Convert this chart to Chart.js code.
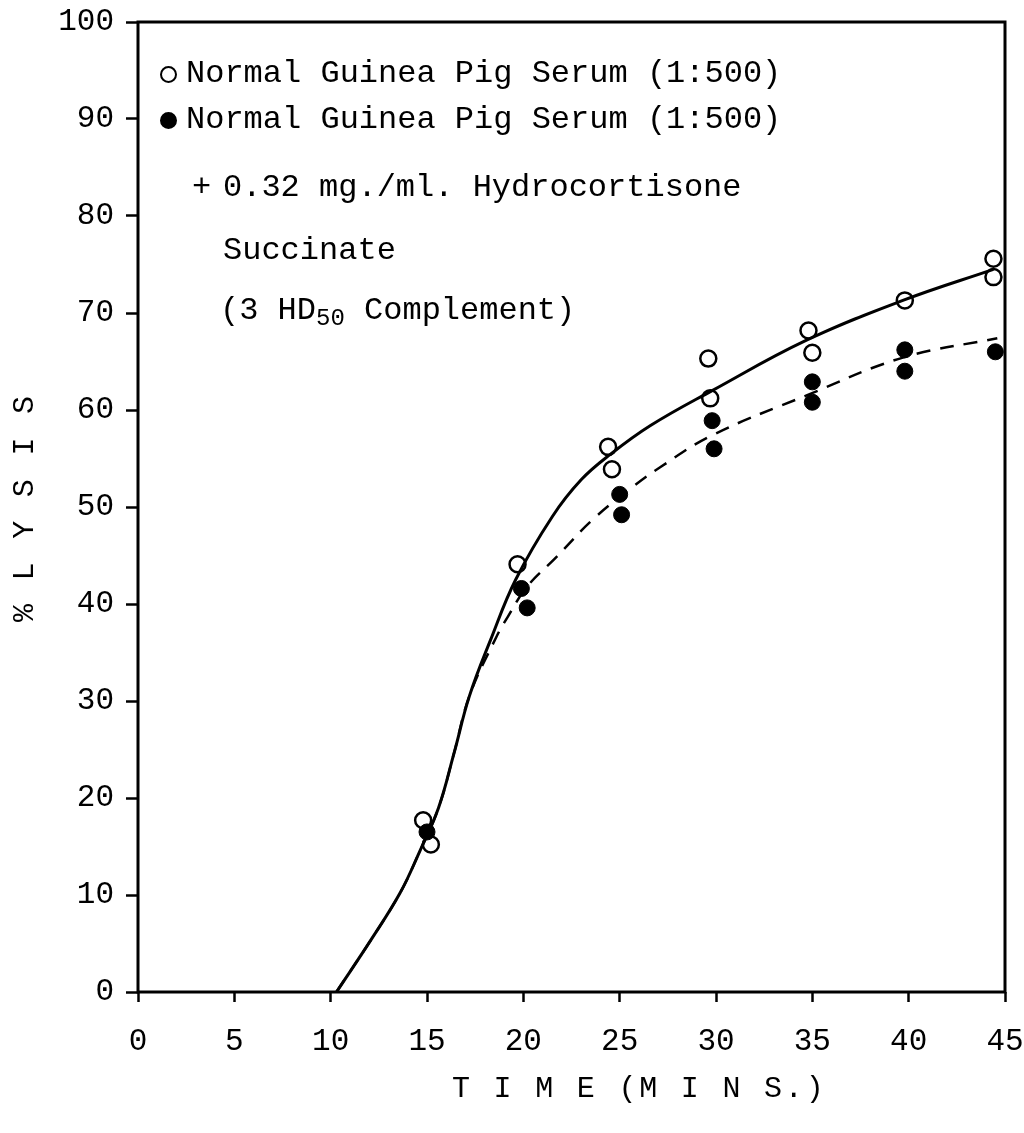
<!DOCTYPE html>
<html>
<head>
<meta charset="utf-8">
<script src="https://cdn.jsdelivr.net/npm/chart.js@4"></script>
<style>
    body { margin: 0; background: #fff; }
    #wrap { position: relative; width: 1024px; height: 1133px; font-family: "Liberation Mono", "DejaVu Sans Mono", monospace; color: #000; }
    #wrap canvas { position: absolute; left: 0; top: 0; }
    .note { position: absolute; font-size: 32px; line-height: 36px; white-space: pre; }
    .dot { position: absolute; width: 13px; height: 13px; border-radius: 50%; border: 2.5px solid #000; }
    .dot.filled { background: #000; }
    sub { font-size: 24px; vertical-align: -6px; }
    .title { position: absolute; font-size: 30px; white-space: pre; letter-spacing: 2.8px; }
</style>
</head>
<body>
<div id="wrap">
    <canvas id="lysisChart" width="1024" height="1133"></canvas>
    <span class="dot" style="left:160px;top:66px"></span>
    <div class="note" style="left:186px;top:56px">Normal Guinea Pig Serum (1:500)</div>
    <span class="dot filled" style="left:160px;top:112px"></span>
    <div class="note" style="left:186px;top:102px">Normal Guinea Pig Serum (1:500)</div>
    <div class="note" style="left:192px;top:170px">+</div>
    <div class="note" style="left:223px;top:170px">0.32 mg./ml. Hydrocortisone</div>
    <div class="note" style="left:223px;top:233px">Succinate</div>
    <div class="note" style="left:220px;top:293px">(3 HD<sub>50</sub> Complement)</div>
    <div class="title" style="left:452px;top:1072px">T I M E (M I N S.)</div>
    <div class="title" style="left:-80px;top:500px;width:210px;text-align:center;transform:rotate(-90deg)">% L Y S I S</div>
</div>
<script>
// open circles: normal guinea pig serum
const openTime = [14.8, 15.2, 19.7, 24.4, 24.6, 29.6, 29.7, 34.8, 35.0, 39.8, 44.4, 44.4];
const openLysis = [17.7, 15.2, 44.1, 56.2, 53.9, 65.3, 61.2, 68.2, 65.9, 71.3, 75.6, 73.7];

// filled circles: serum + hydrocortisone succinate
const filledTime = [15.0, 19.9, 20.2, 25.0, 25.1, 29.8, 29.9, 35.0, 35.0, 39.8, 39.8, 44.5];
const filledLysis = [16.5, 41.6, 39.6, 51.3, 49.2, 58.9, 56.0, 62.9, 60.8, 66.2, 64.0, 66.0];

// hand drawn curves
const solidTime = [10.3, 12.1, 13.6, 14.6, 15.6, 16.4, 17.2, 18.3, 19.6, 21.5, 23.0, 24.5, 26.6, 29.8, 34.7, 39.7, 44.4];
const solidLysis = [0, 5.4, 10.2, 14.4, 19.0, 24.6, 30.5, 36.3, 42.5, 49.0, 52.8, 55.4, 58.4, 62.0, 67.2, 71.3, 74.5];
const dashedTime = [10.3, 12.1, 13.6, 14.6, 15.6, 16.4, 17.2, 18.6, 19.2, 20.2, 21.7, 23.6, 25.7, 27.1, 29.8, 34.7, 39.7, 44.6];
const dashedLysis = [0, 5.4, 10.2, 14.4, 19.0, 24.6, 30.5, 36.6, 38.7, 41.8, 44.8, 48.7, 52.1, 54.1, 57.4, 61.5, 65.4, 67.4];

const xTicks = [0, 5, 10, 15, 20, 25, 30, 35, 40, 45];
const yTicks = [0, 10, 20, 30, 40, 50, 60, 70, 80, 90, 100];

function toPoints(xs, ys) {
    return xs.map((x, i) => ({ x: x, y: ys[i] }));
}

// box round the plot
const frame = {
    id: 'frame',
    afterDraw(chart) {
        const a = chart.chartArea;
        const ctx = chart.ctx;
        ctx.save();
        ctx.strokeStyle = '#000';
        ctx.lineWidth = 3;
        ctx.strokeRect(a.left, a.top, a.right - a.left, a.bottom - a.top);
        ctx.restore();
    }
};

const tickFont = { family: '"Liberation Mono", monospace', size: 31 };

new Chart(document.getElementById('lysisChart'), {
    type: 'scatter',
    data: {
        datasets: [
            {
                data: toPoints(openTime, openLysis),
                pointStyle: 'circle',
                pointRadius: 8,
                pointBorderWidth: 2.5,
                pointBorderColor: '#000',
                pointBackgroundColor: 'rgba(0,0,0,0)',
                order: 1
            },
            {
                data: toPoints(filledTime, filledLysis),
                pointStyle: 'circle',
                pointRadius: 8,
                pointBorderWidth: 1,
                pointBorderColor: '#000',
                pointBackgroundColor: '#000',
                order: 1
            },
            {
                data: toPoints(dashedTime, dashedLysis),
                showLine: true,
                borderColor: '#000',
                borderWidth: 2.5,
                borderDash: [14, 10],
                pointRadius: 0,
                tension: 0.4,
                order: 3
            },
            {
                data: toPoints(solidTime, solidLysis),
                showLine: true,
                borderColor: '#000',
                borderWidth: 3,
                pointRadius: 0,
                tension: 0.4,
                order: 2
            }
        ]
    },
    options: {
        responsive: false,
        animation: false,
        clip: false,
        layout: { padding: { left: 0, top: 22, right: 19, bottom: 0 } },
        plugins: {
            legend: { display: false },
            tooltip: { enabled: false }
        },
        scales: {
            x: {
                type: 'linear',
                min: 0,
                max: 45,
                afterFit: s => { s.height = 141; s.paddingLeft = 0; s.paddingRight = 0; },
                afterBuildTicks: s => { s.ticks = xTicks.map(v => ({ value: v })); },
                border: { display: false },
                grid: { drawOnChartArea: false, drawTicks: true, tickLength: 10, tickWidth: 2.5, color: '#000' },
                ticks: { color: '#000', font: tickFont, padding: 21, maxRotation: 0 }
            },
            y: {
                type: 'linear',
                min: 0,
                max: 100,
                afterFit: s => { s.width = 138; s.paddingTop = 0; s.paddingBottom = 0; },
                afterBuildTicks: s => { s.ticks = yTicks.map(v => ({ value: v })); },
                border: { display: false },
                grid: { drawOnChartArea: false, drawTicks: true, tickLength: 12, tickWidth: 2.5, color: '#000' },
                ticks: { color: '#000', font: tickFont, padding: 12 }
            }
        }
    },
    plugins: [frame]
});
</script>
</body>
</html>
